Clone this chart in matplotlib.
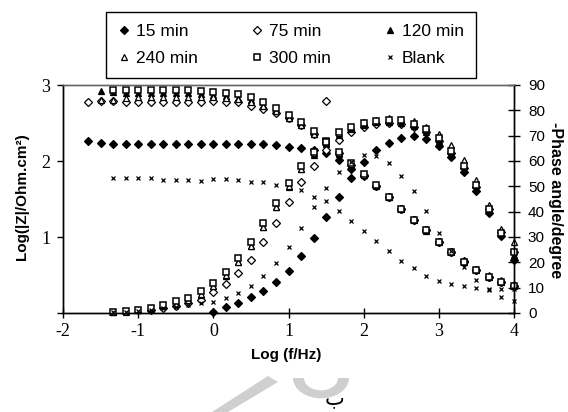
import numpy as np
import matplotlib
matplotlib.use("Agg")
import matplotlib.pyplot as plt
from matplotlib.lines import Line2D
from matplotlib.patches import Polygon, Wedge

plt.rcParams["axes.unicode_minus"] = False
nan = np.nan

# ---- data -------------------------------------------------------------
log_f = [-1.667, -1.5, -1.333, -1.167, -1.0, -0.833, -0.667, -0.5, -0.333, -0.167,
         0.0, 0.167, 0.333, 0.5, 0.667, 0.833, 1.0, 1.167, 1.333, 1.5,
         1.667, 1.833, 2.0, 2.167, 2.333, 2.5, 2.667, 2.833, 3.0, 3.167,
         3.333, 3.5, 3.667, 3.833, 4.0]

series_labels = ["15 min", "75 min", "120 min", "240 min", "300 min", "Blank"]

logz_15 = [2.26, 2.24, 2.23, 2.23, 2.23, 2.23, 2.23, 2.23, 2.23, 2.23,
           2.23, 2.23, 2.23, 2.23, 2.22, 2.21, 2.19, 2.17, 2.14, 2.10,
           2.01, 1.90, 1.80, 1.67, 1.52, 1.37, 1.23, 1.09, 0.94, 0.80,
           0.68, 0.57, 0.48, 0.41, 0.36]
phase_15 = [nan, nan, nan, nan, nan, nan, nan, nan, nan, nan,
            0.4, 2.2, 3.9, 6.2, 8.5, 12.2, 16.7, 22.6, 29.6, 37.9,
            45.8, 53.2, 59.6, 64.2, 67.2, 69.2, 69.8, 68.5, 66.0, 61.6,
            55.7, 48.0, 39.3, 30.2, 21.0]

logz_75 = [2.78, 2.79, 2.79, 2.78, 2.78, 2.78, 2.78, 2.78, 2.78, 2.78,
           2.79, 2.78, 2.77, 2.73, 2.69, 2.63, 2.56, 2.47, 2.36, 2.79,
           2.10, 1.95, 1.81, 1.67, 1.52, 1.37, 1.23, 1.09, 0.93, 0.80,
           0.67, 0.56, 0.48, 0.41, 0.36]
phase_75 = [nan, nan, nan, nan, nan, 1.0, 1.8, 2.8, 3.8, 5.2,
            8.1, 11.6, 15.9, 21.0, 28.2, 35.5, 44.0, 51.7, 58.2, 64.5,
            68.4, 71.4, 73.5, 74.5, 75.0, 74.6, 73.6, 71.5, 68.0, 63.3,
            57.3, 49.8, 41.0, 31.8, 24.0]

logz_120 = [nan, 2.92, 2.91, 2.90, 2.90, 2.90, 2.89, 2.89, 2.89, 2.88,
            2.87, 2.85, 2.83, 2.80, 2.74, 2.66, 2.57, 2.47, 2.35, 2.22,
            2.09, 1.95, 1.81, 1.67, 1.52, 1.37, 1.23, 1.08, 0.93, 0.80,
            0.67, 0.56, 0.47, 0.41, 0.36]
phase_120 = [nan, nan, 0.3, 0.6, 1.0, 1.6, 2.6, 3.8, 5.0, 7.3,
             10.5, 14.8, 20.0, 26.3, 33.8, 41.8, 49.8, 56.8, 62.5, 67.0,
             70.3, 72.8, 74.4, 75.2, 75.5, 75.0, 73.8, 71.5, 68.0, 63.3,
             57.0, 49.3, 40.3, 31.0, 23.0]

logz_240 = [nan, 2.80, 2.80, 2.83, 2.84, 2.84, 2.84, 2.84, 2.84, 2.84,
            2.84, 2.83, 2.81, 2.78, 2.73, 2.66, 2.57, 2.47, 2.36, 2.23,
            2.10, 1.96, 1.82, 1.68, 1.53, 1.38, 1.24, 1.10, 0.95, 0.82,
            0.69, 0.58, 0.50, 0.43, 0.38]
phase_240 = [nan, nan, 0.2, 0.5, 1.0, 1.6, 2.6, 3.6, 5.0, 7.4,
             10.6, 15.0, 20.2, 26.5, 34.0, 42.0, 50.0, 57.0, 63.0, 67.8,
             71.0, 73.5, 75.2, 76.2, 76.8, 76.6, 75.6, 73.5, 70.5, 66.2,
             60.2, 52.4, 42.7, 33.1, 27.9]

logz_300 = [nan, nan, 2.94, 2.94, 2.94, 2.94, 2.94, 2.93, 2.93, 2.92,
            2.91, 2.89, 2.88, 2.84, 2.78, 2.70, 2.60, 2.51, 2.39, 2.26,
            2.12, 1.97, 1.83, 1.68, 1.53, 1.37, 1.23, 1.09, 0.93, 0.80,
            0.67, 0.56, 0.48, 0.41, 0.355]
phase_300 = [nan, nan, 0.3, 0.6, 1.3, 2.0, 3.3, 4.6, 5.9, 8.5,
             11.8, 16.3, 21.7, 28.0, 35.5, 43.6, 51.3, 58.2, 63.7, 67.5,
             71.4, 73.6, 75.0, 75.9, 76.3, 76.0, 74.6, 72.6, 69.0, 64.1,
             58.1, 50.6, 41.0, 31.6, 23.9]

logz_blank = [nan, nan, 1.78, 1.78, 1.77, 1.77, 1.75, 1.75, 1.75, 1.74,
              1.76, 1.76, 1.75, 1.73, 1.72, 1.69, 1.66, 1.62, 1.53, 1.47,
              1.34, 1.21, 1.08, 0.95, 0.81, 0.68, 0.59, 0.49, 0.42, 0.38,
              0.35, 0.33, 0.32, 0.31, 0.31]
phase_blank = [nan, nan, 0.4, 0.5, 0.8, 1.2, 1.8, 2.5, 3.3, 3.9,
               4.5, 5.8, 7.7, 10.5, 14.6, 19.6, 26.0, 33.4, 41.8, 49.3,
               55.5, 59.5, 62.2, 61.8, 59.2, 54.2, 48.1, 40.2, 31.5, 24.5,
               18.2, 13.0, 9.0, 6.2, 4.8]

logz_all = [logz_15, logz_75, logz_120, logz_240, logz_300, logz_blank]
phase_all = [phase_15, phase_75, phase_120, phase_240, phase_300, phase_blank]

x_ticks = [-2, -1, 0, 1, 2, 3, 4]
z_ticks = [0, 1, 2, 3]
z_ticklabels = ["", "1", "2", "3"]
phase_ticks = [0, 10, 20, 30, 40, 50, 60, 70, 80, 90]

# ---- styles -----------------------------------------------------------
styles = [
    dict(marker="D", mfc="black", mec="black", ms=3.6, mew=0.9),
    dict(marker="D", mfc="white", mec="black", ms=3.6, mew=0.9),
    dict(marker="^", mfc="black", mec="black", ms=4.3, mew=0.9),
    dict(marker="^", mfc="white", mec="black", ms=4.3, mew=0.9),
    dict(marker="s", mfc="white", mec="black", ms=4.0, mew=1.1),
    dict(marker="x", color="black", ms=3.2, mew=0.9),
]

SANS = ["Liberation Sans", "DejaVu Sans"]
SERIF = ["Liberation Serif", "DejaVu Serif"]

W, H = 568, 412
fig = plt.figure(figsize=(W / 100, H / 100), dpi=100)
L, R, T, B = 63, 514, 85, 313
ax = fig.add_axes([L / W, 1 - B / H, (R - L) / W, (B - T) / H])
ax2 = ax.twinx()

ax.set_xlim(-2, 4)
ax.set_ylim(0, 3)
ax2.set_ylim(0, 90)

for z, p, st in zip(logz_all, phase_all, styles):
    ax.plot(log_f, z, linestyle="none", clip_on=False, **st)
    ax2.plot(log_f, p, linestyle="none", clip_on=False, **st)

ax.set_xticks(x_ticks)
ax.set_yticks(z_ticks)
ax.set_yticklabels(z_ticklabels)
ax2.set_yticks(phase_ticks)

for lab in ax.get_xticklabels() + ax.get_yticklabels():
    lab.set_family(SERIF)
    lab.set_fontsize(13)
for lab in ax2.get_yticklabels():
    lab.set_family(SANS)
    lab.set_fontsize(11)

ax.tick_params(axis="x", direction="inout", length=7, width=1, pad=4)
ax.tick_params(axis="y", direction="out", length=4, width=1, pad=5)
ax2.tick_params(axis="y", direction="inout", length=8, width=1, pad=6)

for a in (ax, ax2):
    for side in ("left", "bottom", "right"):
        a.spines[side].set_color("black")
        a.spines[side].set_linewidth(1.0)
    a.spines["top"].set_color("#666666")
    a.spines["top"].set_linewidth(1.0)

# ---- labels -----------------------------------------------------------
fig.text(22 / W, 1 - 197 / H, "Log(|Z|/Ohm.cm\u00b2)", rotation=90,
         ha="center", va="center", fontsize=11, fontweight="bold", family=SANS)
fig.text(555 / W, 1 - 200 / H, "-Phase angle/degree", rotation=270,
         ha="center", va="center", fontsize=11.5, fontweight="bold", family=SANS)
fig.text(286 / W, 1 - 355 / H, "Log (f/Hz)", ha="center", va="center",
         fontsize=11, fontweight="bold", family=SANS)

# ---- faint watermark and caption ---------------------------------------
def px(x, y):
    return (x / W, 1 - y / H)

fig.patches.append(Polygon([px(212, 412), px(228, 412), px(278, 382), px(268, 376)],
                           closed=True, transform=fig.transFigure,
                           facecolor="#cfcfcf", edgecolor="none", zorder=0))
fig.patches.append(Wedge(px(321, 378), 28 / W, 180, 360, width=11 / W,
                         transform=fig.transFigure, facecolor="#cfcfcf",
                         edgecolor="none", zorder=0))
fig.text(334 / W, 1 - 398 / H, "\u0628", ha="center", va="center",
         fontsize=15, family=["DejaVu Sans"])

# ---- legend -----------------------------------------------------------
handles = [Line2D([], [], linestyle="none", **st) for st in styles]
order = [0, 3, 1, 4, 2, 5]
leg = fig.legend([handles[i] for i in order], [series_labels[i] for i in order],
                 ncol=3, loc="center", bbox_to_anchor=(291 / W, 1 - 45 / H),
                 frameon=True, fancybox=False, edgecolor="black", framealpha=1,
                 prop={"family": SANS, "size": 12.5}, handlelength=0.7,
                 handletextpad=0.3, columnspacing=3.1, borderpad=0.7,
                 labelspacing=0.7, borderaxespad=0)
leg.get_frame().set_linewidth(1.0)

fig.savefig("out.png", dpi=100)
